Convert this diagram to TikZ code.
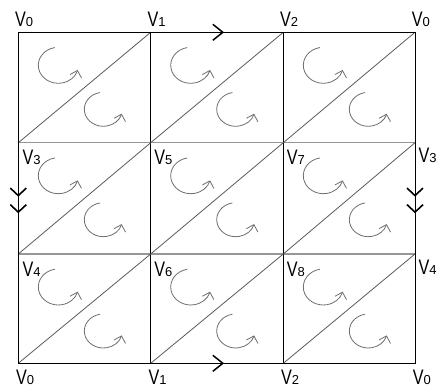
\documentclass[tikz,border=0pt]{standalone}
\usepackage{fontspec}
\setmainfont{Liberation Sans}
\newfontfamily\narrowfont[FakeStretch=0.77]{Liberation Sans}
\usepackage{tikz}
\usetikzlibrary{arrows.meta, calc, decorations.markings}
\definecolor{gridgray}{RGB}{150, 150, 150}
\definecolor{diaggray}{RGB}{90, 90, 90}
\definecolor{spingray}{RGB}{110, 110, 110}
\newcommand{\vx}[1]{{\narrowfont\fontsize{21}{21}\selectfont V}{\fontsize{13}{13}\selectfont #1}}
\tikzset{
  borderline/.style={draw=black, line width=1pt},
  innerline/.style={draw=gridgray, line width=1.6pt},
  vertline/.style={draw=black, line width=1pt},
  diagline/.style={draw=diaggray, line width=0.8pt},
  spin/.style={draw=spingray, line width=0.8pt, -{Straight Barb[length=6pt, width=12pt, line width=0.8pt]}},
  vlab/.style={inner sep=0pt, text=black},
  gluefwd/.style={postaction={decorate}, decoration={markings,
    mark=at position 0.553 with {\arrow{Straight Barb[length=10pt, width=16pt, line width=1.5pt]}}}},
  gluedbl/.style={postaction={decorate}, decoration={markings,
    mark=at position 0.485 with {\arrow{Straight Barb[length=7.5pt, width=16pt, line width=1.6pt]}},
    mark=at position 0.634 with {\arrow{Straight Barb[length=7.5pt, width=16pt, line width=1.6pt]}}}}
}
\begin{document}
\begin{tikzpicture}[x=1pt, y=1pt]
  \useasboundingbox (0,0) rectangle (438,388);

  % Grid points
  \foreach \c/\px in {0/18.3, 1/150.7, 2/283.3, 3/415} {
    \foreach \r/\py in {0/355.7, 1/245.3, 2/134, 3/24.7} {
      \coordinate (g\c\r) at (\px,\py);
    }
  }

  % Inner horizontal lines
  \draw[innerline] (g01) -- (g31);
  \draw[innerline] (g02) -- (g32);

  % Inner vertical lines
  \draw[vertline] (g10) -- (g13);
  \draw[vertline] (g20) -- (g23);

  % Diagonals and orientation arcs
  \foreach \c in {0,1,2} {
    \foreach \r in {0,1,2} {
      \pgfmathtruncatemacro{\cn}{\c+1}
      \pgfmathtruncatemacro{\rn}{\r+1}
      \draw[diagline] (g\c\rn) -- (g\cn\r);
      \draw[spin] ($(g\c\r)+(40,-33)+(100:20pt and 18pt)$)
        arc[start angle=100, end angle=345, x radius=20pt, y radius=18pt];
      \draw[spin] ($(g\c\r)+(85,-77)+(100:19pt and 17pt)$)
        arc[start angle=100, end angle=345, x radius=19pt, y radius=17pt];
    }
  }

  % Outer border with gluing marks
  \draw[borderline] (g00) rectangle (g33);
  \draw[borderline, gluefwd] (g10) -- (g20);
  \draw[borderline, gluefwd] (g13) -- (g23);
  \draw[borderline, gluedbl] (g01) -- (g02);
  \draw[borderline, gluedbl] (g31) -- (g32);

  % Vertex labels: top row
  \node[vlab, anchor=base west] (t0) at ($(g00)+(-3.4,5.6)$) {\vx0};
  \node[vlab, anchor=base west] (t1) at ($(g10)+(-3.4,5.6)$) {\vx1};
  \node[vlab, anchor=base west] (t2) at ($(g20)+(-3.4,5.6)$) {\vx2};
  \node[vlab, anchor=base west] (t3) at ($(g30)+(-3.4,5.6)$) {\vx0};

  % Vertex labels: middle rows
  \node[vlab, anchor=base west] (m0) at ($(g01)+(4,-22.3)$) {\vx3};
  \node[vlab, anchor=base west] (m1) at ($(g11)+(3.4,-22.3)$) {\vx5};
  \node[vlab, anchor=base west] (m2) at ($(g21)+(3.4,-22.3)$) {\vx7};
  \node[vlab, anchor=base west] (m3) at ($(g31)+(3.4,-20)$) {\vx3};
  \node[vlab, anchor=base west] (n0) at ($(g02)+(4,-22.6)$) {\vx4};
  \node[vlab, anchor=base west] (n1) at ($(g12)+(3.4,-22.6)$) {\vx6};
  \node[vlab, anchor=base west] (n2) at ($(g22)+(3.4,-22.6)$) {\vx8};
  \node[vlab, anchor=base west] (n3) at ($(g32)+(3.4,-20.3)$) {\vx4};

  % Vertex labels: bottom row
  \node[vlab, anchor=base west] (b0) at ($(g03)+(-2.4,-21)$) {\vx0};
  \node[vlab, anchor=base west] (b1) at ($(g13)+(-2.4,-21)$) {\vx1};
  \node[vlab, anchor=base west] (b2) at ($(g23)+(-2.4,-21)$) {\vx2};
  \node[vlab, anchor=base west] (b3) at ($(g33)+(-2.4,-21)$) {\vx0};

\end{tikzpicture}
\end{document}
